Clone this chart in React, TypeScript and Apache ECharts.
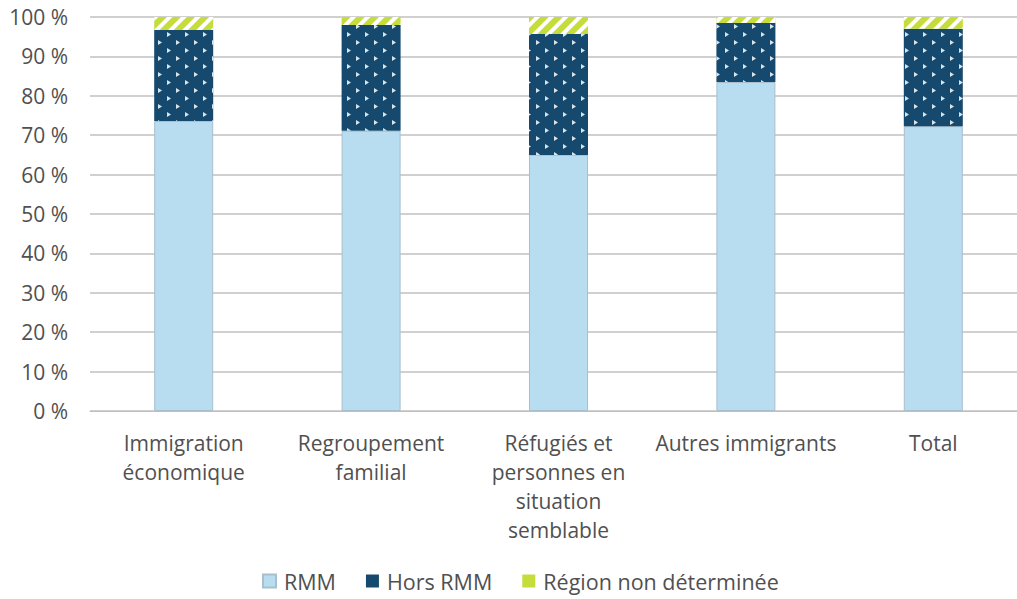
import React, { useEffect, useRef } from "react";
import * as echarts from "echarts";

const categories = [
  "Immigration\néconomique",
  "Regroupement\nfamilial",
  "Réfugiés et\npersonnes en\nsituation\nsemblable",
  "Autres immigrants",
  "Total",
];
const rmm = [73.6, 71.1, 65.0, 83.5, 72.3];
const horsRmm = [23.1, 26.9, 30.7, 15.0, 24.7];
const regionND = [3.3, 2.0, 4.3, 1.5, 3.0];
const seriesNames = ["RMM", "Hors RMM", "Région non déterminée"];
const seriesColors = ["#b8dcf0", "#154a6e", "#c5dc3a"];

const FONT = "'Open Sans', sans-serif";
const TXT = "#505050";
const FS = 21;

export default function App() {
  const ref = useRef<HTMLDivElement>(null);
  useEffect(() => {
    if (!ref.current) return;
    const chart = echarts.init(ref.current, undefined, { renderer: "svg" });
    chart.setOption({
      animation: false,
      textStyle: { fontFamily: FONT },
      grid: { left: 90, top: 17, right: 13, height: 394 },
      legend: {
        bottom: 2,
        left: 257,
        icon: "rect",
        itemWidth: 13,
        itemHeight: 13,
        itemGap: 30,
        textStyle: { fontSize: 21.5, color: TXT, fontFamily: FONT, padding: [0, 0, 0, 3] },
        data: seriesNames.map((n, i) => ({
          name: n,
          itemStyle: { color: seriesColors[i], decal: "none" },
        })),
      },
      xAxis: {
        type: "category",
        data: categories,
        axisLine: { lineStyle: { color: "#bfbfbf", width: 1 } },
        axisTick: { show: false },
        axisLabel: {
          color: TXT,
          fontSize: FS,
          lineHeight: 29,
          margin: 17,
          interval: 0,
          fontFamily: FONT,
        },
      },
      yAxis: {
        type: "value",
        min: 0,
        max: 100,
        interval: 10,
        axisLine: { show: false },
        axisTick: { show: false },
        splitLine: { lineStyle: { color: "#d0d0d0", width: 2 } },
        axisLabel: {
          color: TXT,
          fontSize: FS,
          margin: 22,
          fontFamily: FONT,
          formatter: (v: number) => v + " %",
        },
      },
      series: [
        {
          name: seriesNames[0],
          type: "bar",
          stack: "s",
          barWidth: 59,
          data: rmm,
          itemStyle: { color: seriesColors[0], borderColor: "#a9bfcc", borderWidth: 1 },
        },
        {
          name: seriesNames[1],
          type: "bar",
          stack: "s",
          barWidth: 59,
          data: horsRmm,
          itemStyle: {
            color: seriesColors[1],
            decal: {
              symbol: "triangle",
              symbolSize: 1,
              color: "rgba(255,255,255,0.85)",
              dashArrayX: [[5, 11], [0, 8, 5, 3]],
              dashArrayY: [4, 5],
              rotation: Math.PI / 2,
            },
          },
        },
        {
          name: seriesNames[2],
          type: "bar",
          stack: "s",
          barWidth: 59,
          data: regionND,
          itemStyle: {
            color: seriesColors[2],
            decal: {
              symbol: "rect",
              symbolSize: 1,
              color: "#ffffff",
              dashArrayX: [1, 0],
              dashArrayY: [4, 6],
              rotation: -Math.PI / 4,
            },
          },
        },
      ],
    });
    return () => chart.dispose();
  }, []);
  return (
    <div
      style={{ position: "absolute", left: 0, top: 0, width: 1017, height: 599, overflow: "hidden", background: "#fff" }}
    >
      <div ref={ref} style={{ width: 1040, height: 599 }} />
    </div>
  );
}
